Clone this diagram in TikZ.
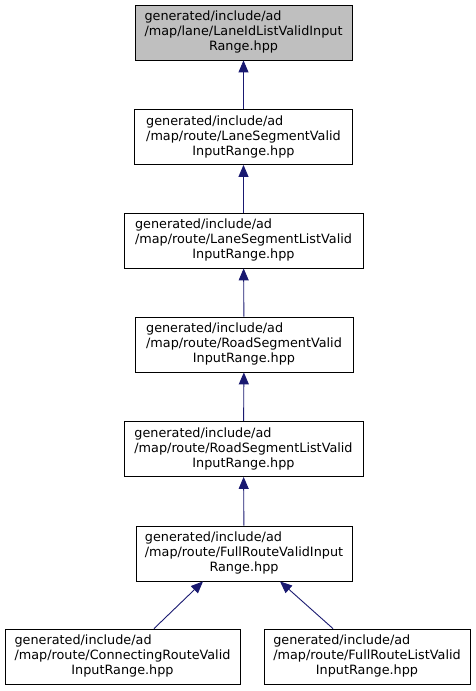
\documentclass[tikz,border=0pt]{standalone}
\usepackage{fontspec}
\setmainfont{DejaVu Sans}
\usetikzlibrary{arrows.meta}
\definecolor{edgeblue}{HTML}{191970}
\definecolor{focusgray}{HTML}{BFBFBF}

% Three-line file label: two left lines, last line centred.
\newcommand{\flabel}[3]{\begin{tabular}{@{}l@{}}#1\\#2\\\multicolumn{1}{@{}c@{}}{#3}\end{tabular}}

\begin{document}
\begin{tikzpicture}[
  x=1pt,
  y=-1pt,
  every node/.style={font=\fontsize{12.8}{15}\selectfont},
  file/.style={draw=black, line width=0.8pt, fill=white, inner sep=0pt, minimum height=55pt},
  focus/.style={file, fill=focusgray},
  edge/.style={draw=edgeblue, line width=0.9pt, -{Triangle[length=12pt,width=10pt]}},
]

\useasboundingbox (0,0) rectangle (475,691);

% Files.
\node[focus, minimum width=217pt] (lanelist) at (243.5,32.5) {\flabel{generated/include/ad}{/map/lane/LaneIdListValidInput}{Range.hpp}};
\node[file, minimum width=218pt] (segvalid) at (243.5,137) {\flabel{generated/include/ad}{/map/route/LaneSegmentValid}{InputRange.hpp}};
\node[file, minimum width=239pt] (seglist) at (243.5,240.5) {\flabel{generated/include/ad}{/map/route/LaneSegmentListValid}{InputRange.hpp}};
\node[file, minimum width=218pt] (roadvalid) at (244,344.5) {\flabel{generated/include/ad}{/map/route/RoadSegmentValid}{InputRange.hpp}};
\node[file, minimum width=239pt] (roadlist) at (243.5,449) {\flabel{generated/include/ad}{/map/route/RoadSegmentListValid}{InputRange.hpp}};
\node[file, minimum width=216pt] (fullvalid) at (244,553.5) {\flabel{generated/include/ad}{/map/route/FullRouteValidInput}{Range.hpp}};
\node[file, minimum width=235pt] (connvalid) at (122.5,656.5) {\flabel{generated/include/ad}{/map/route/ConnectingRouteValid}{InputRange.hpp}};
\node[file, minimum width=206pt] (fulllist) at (367,656.5) {\flabel{generated/include/ad}{/map/route/FullRouteListValid}{InputRange.hpp}};

% Includes.
\draw[edge] (segvalid) -- (lanelist);
\draw[edge] (seglist) -- (segvalid);
\draw[edge] (roadvalid) -- (seglist);
\draw[edge] (roadlist) -- (roadvalid);
\draw[edge] (fullvalid) -- (roadlist);
\draw[edge] ([xshift=31.5pt]connvalid.north) -- ([xshift=-41pt]fullvalid.south);
\draw[edge] ([xshift=-34pt]fulllist.north) -- ([xshift=36pt]fullvalid.south);

\end{tikzpicture}
\end{document}
